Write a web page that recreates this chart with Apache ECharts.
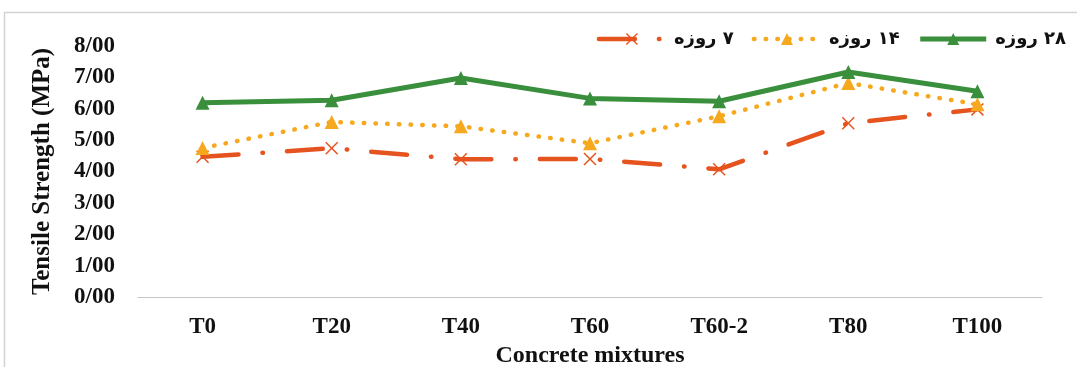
<!DOCTYPE html>
<html>
<head>
<meta charset="utf-8">
<script src="https://cdn.jsdelivr.net/npm/echarts@6/dist/echarts.min.js"></script>
<style>
  html, body { margin: 0; padding: 0; background: #ffffff; }
  #chart { width: 1077px; height: 367px; }
</style>
</head>
<body>
<div id="chart"></div>
<script>
// Concrete mixtures on the category axis
const mixtures = ['T0', 'T20', 'T40', 'T60', 'T60-2', 'T80', 'T100'];

// Tensile strength (MPa) at each curing age
const day7 = [4.47, 4.74, 4.39, 4.40, 4.07, 5.54, 5.98];
const day14 = [4.75, 5.58, 5.44, 4.90, 5.76, 6.82, 6.14];
const day28 = [6.19, 6.27, 6.98, 6.33, 6.24, 7.17, 6.56];

// Series names (Persian)
const seriesNames = ['۷ روزه', '۱۴ روزه', '۲۸ روزه'];

// Value-axis tick labels (slash as decimal separator)
const yTickLabels = ['0/00', '1/00', '2/00', '3/00', '4/00', '5/00', '6/00', '7/00', '8/00'];

const serif = '"Liberation Serif", "Times New Roman", serif';
const crossPath = 'path://M0,1.6 L1.6,0 L10,8.4 L18.4,0 L20,1.6 L11.6,10 L20,18.4 L18.4,20 L10,11.6 L1.6,20 L0,18.4 L8.4,10 Z';

const chart = echarts.init(document.getElementById('chart'), null, { renderer: 'canvas' });

chart.setOption({
  backgroundColor: '#ffffff',
  animation: false,
  graphic: [{
    type: 'rect',
    shape: { x: 4.5, y: 12.5, width: 1200, height: 500 },
    style: { fill: 'none', stroke: '#d2d2d2', lineWidth: 1.5 },
    silent: true,
    z: -10
  }],
  legend: {
    right: 6,
    top: 25,
    itemWidth: 66,
    itemHeight: 15,
    itemGap: 18,
    data: seriesNames,
    formatter: name => '\u2067' + name + '\u2069',
    lineStyle: { width: 'inherit' },
    textStyle: {
      fontFamily: '"DejaVu Sans", "Noto Sans", sans-serif',
      fontWeight: 'bold',
      fontSize: 18,
      color: '#111111',
      padding: [0, 0, 0, 4]
    }
  },
  grid: { left: 138, right: 35, top: 46, bottom: 70, outerBoundsMode: 'none' },
  xAxis: {
    type: 'category',
    data: mixtures,
    boundaryGap: true,
    name: 'Concrete mixtures',
    nameLocation: 'middle',
    nameGap: 46,
    nameTextStyle: { fontFamily: serif, fontWeight: 'bold', fontSize: 24, color: '#111111' },
    axisLine: { lineStyle: { color: '#c4c4c4', width: 1.2 } },
    axisTick: { show: false },
    axisLabel: { margin: 19, fontFamily: serif, fontWeight: 'bold', fontSize: 23, color: '#111111' }
  },
  yAxis: {
    type: 'value',
    min: 0,
    max: 8,
    interval: 1,
    name: 'Tensile Strength (MPa)',
    nameLocation: 'middle',
    nameGap: 83,
    nameTextStyle: { fontFamily: serif, fontWeight: 'bold', fontSize: 25, color: '#111111' },
    axisLine: { show: false },
    axisTick: { show: false },
    splitLine: { show: false },
    axisLabel: {
      margin: 23,
      fontFamily: serif,
      fontWeight: 'bold',
      fontSize: 23,
      color: '#111111',
      formatter: (v, i) => yTickLabels[i]
    }
  },
  series: [
    {
      name: seriesNames[0],
      type: 'line',
      data: day7,
      symbol: crossPath,
      symbolSize: 13,
      itemStyle: { color: '#e5531f' },
      lineStyle: { color: '#e5531f', width: 4.5, cap: 'round', type: [36, 24, 0.5, 24], dashOffset: 0 },
      z: 2
    },
    {
      name: seriesNames[1],
      type: 'line',
      data: day14,
      symbol: 'triangle',
      symbolSize: 14,
      itemStyle: { color: '#f6a81e' },
      lineStyle: { color: '#f6a81e', width: 4.5, cap: 'round', type: [0.5, 11.2] },
      z: 3
    },
    {
      name: seriesNames[2],
      type: 'line',
      data: day28,
      symbol: 'triangle',
      symbolSize: 14,
      itemStyle: { color: '#3a8f3c' },
      lineStyle: { color: '#3a8f3c', width: 5 },
      z: 4
    }
  ]
});
</script>
</body>
</html>
